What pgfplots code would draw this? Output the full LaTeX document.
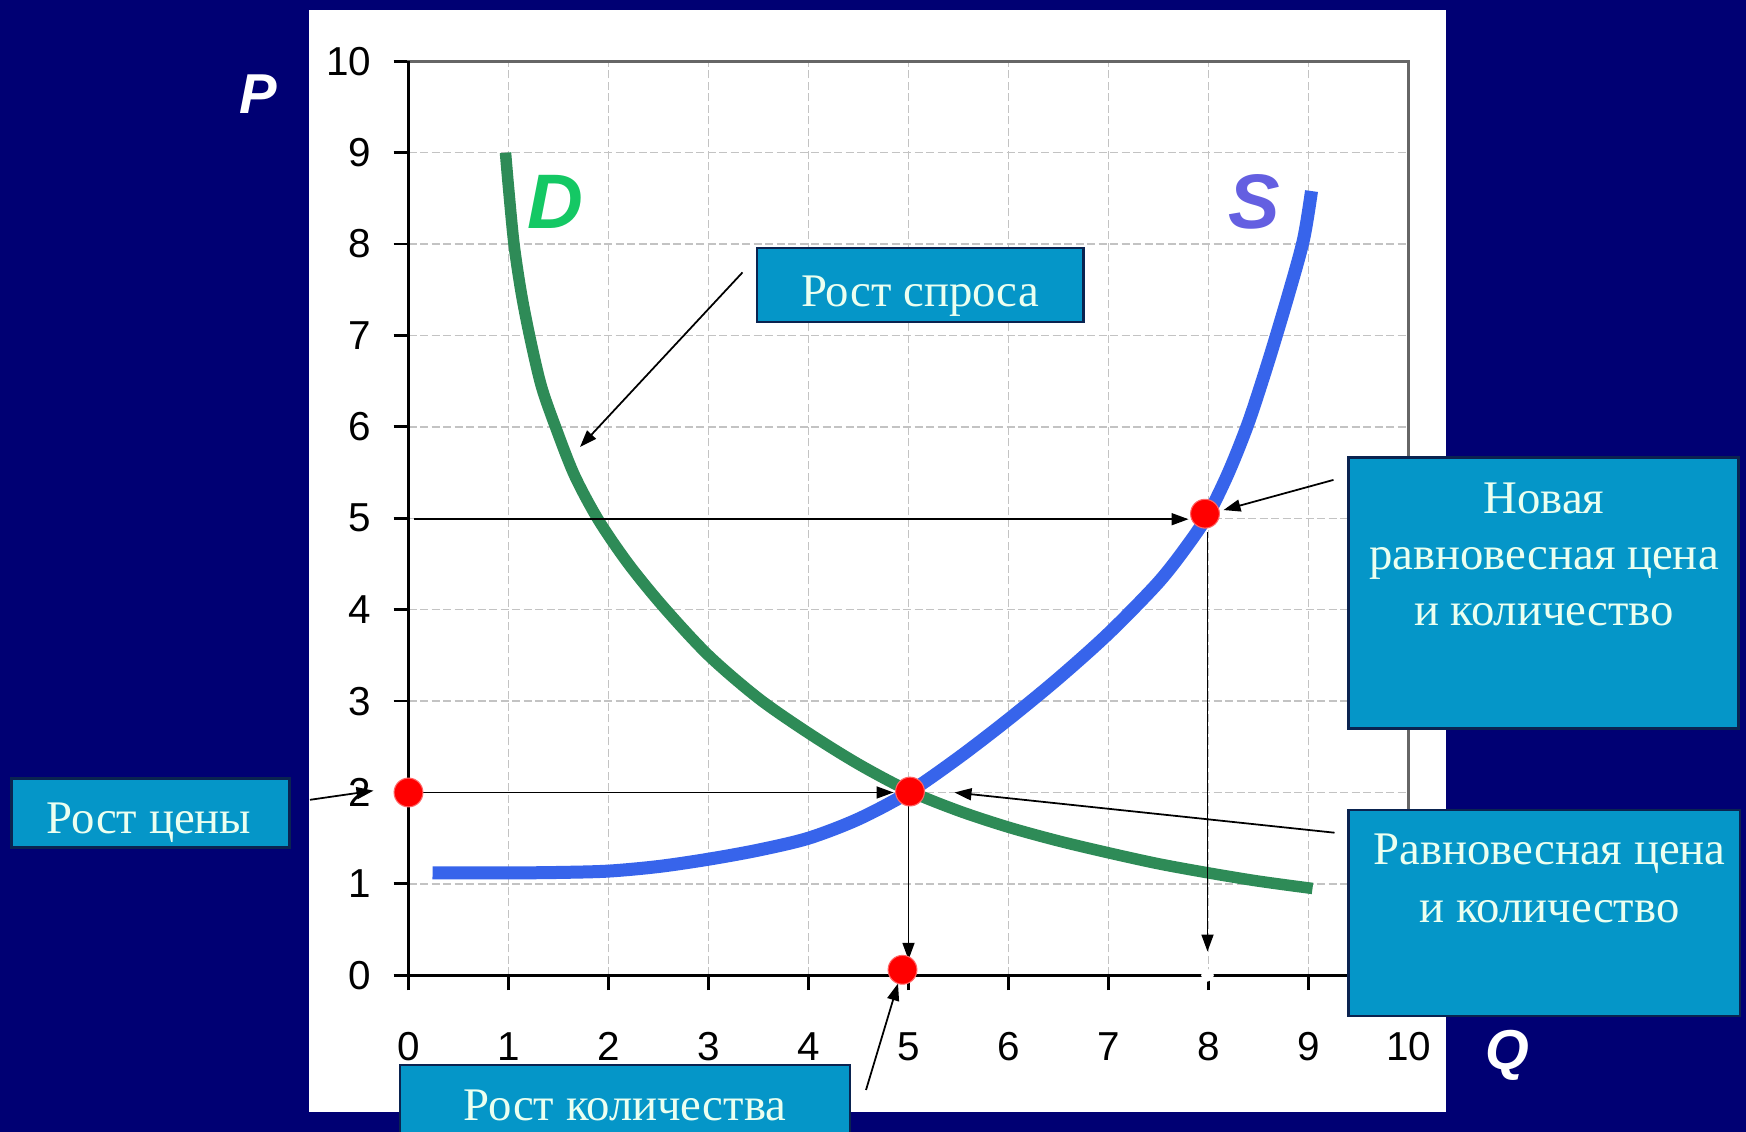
\documentclass[border=0pt]{standalone}
\usepackage{fontspec}
\setmainfont{Liberation Serif}
\newfontfamily\arial{Liberation Sans}
\usepackage{pgfplots}
\pgfplotsset{compat=1.18}
\usetikzlibrary{arrows.meta}
\definecolor{bgnavy}{RGB}{0,0,115}
\definecolor{boxblue}{RGB}{5,150,200}
\definecolor{boxedge}{RGB}{10,35,80}
\definecolor{boxtext}{RGB}{235,255,240}
\definecolor{dgreen}{RGB}{46,139,87}
\definecolor{sblue}{RGB}{55,100,235}
\definecolor{dlabel}{RGB}{20,200,100}
\definecolor{slabel}{RGB}{100,95,225}
\definecolor{gridgray}{RGB}{195,195,195}
\tikzset{arr/.style={black, line width=0.5pt, -{Triangle[length=1.7mm,width=1.2mm]}},
  boxt/.style={anchor=base, text=boxtext, font=\fontsize{13.3}{16}\selectfont, inner sep=0pt},
  bx/.style={fill=boxblue, draw=boxedge, line width=0.25mm}}
\begin{document}
\begin{tikzpicture}[x=1mm,y=1mm]
\fill[bgnavy] (0,0) rectangle (174.6,113.2);
\fill[white] (30.85,2.03) rectangle (144.6,112.2);
\begin{axis}[
  at={(40.85mm,15.67mm)}, anchor=south west,
  scale only axis, width=100mm, height=91.4mm,
  xmin=0, xmax=10, ymin=0, ymax=10,
  xtick={0,1,...,10}, ytick={0,1,...,10},
  tick pos=left, tick align=outside,
  major tick length=1.5mm,
  tick style={black, line width=0.8pt},
  axis line style={draw=black!60, line width=0.8pt},
  grid=major,
  major grid style={draw=gridgray, line width=0.35pt, dash pattern=on 0.8mm off 0.35mm},
  ticklabel style={font=\arial\fontsize{11.5}{12}\selectfont, text=black},
  /pgf/number format/assume math mode=true,
  xticklabel style={yshift=-3mm},
  yticklabel style={xshift=-1mm},
  clip=false,
]
\addplot[black, line width=1pt] coordinates {(0,10) (0,0) (10,0)};
% demand D
\addplot[dgreen, line width=1.15mm, smooth] coordinates {
 (0.97,9.0) (1.0,8.62) (1.055,8.0) (1.13,7.45) (1.22,6.95) (1.33,6.44) (1.47,6.0)
 (1.66,5.47) (1.9,4.98) (2.2,4.5) (2.55,4.03) (3.0,3.5) (3.5,3.03) (4.0,2.65)
 (4.5,2.31) (5.0,2.02) (5.5,1.8) (6.0,1.62) (6.5,1.47) (7.0,1.34) (7.5,1.22)
 (8.0,1.12) (8.5,1.03) (9.04,0.95)};
% supply S
\addplot[sblue, line width=1.3mm, smooth] coordinates {
 (0.24,1.12) (1.0,1.12) (1.5,1.125) (2.0,1.14) (2.5,1.19) (3.0,1.27) (3.5,1.37)
 (4.0,1.50) (4.5,1.71) (5.0,2.0) (5.5,2.38) (6.0,2.8) (6.5,3.25) (7.0,3.74)
 (7.5,4.3) (7.8,4.72) (8.0,5.05) (8.2,5.5) (8.4,6.05) (8.6,6.72) (8.8,7.45)
 (8.95,8.05) (9.03,8.58)};
% guide arrows
\addplot[arr] coordinates {(0.13,2.0) (4.85,2.0)};
\addplot[arr] coordinates {(5.0,1.85) (5.0,0.17)};
\addplot[arr] coordinates {(0.05,4.99) (7.8,4.99)};
\addplot[arr] coordinates {(7.99,4.85) (7.99,0.26)};
% callout arrows
\addplot[arr] coordinates {(3.34,7.69) (1.715,5.78)};
\addplot[arr] coordinates {(9.25,5.42) (8.15,5.09)};
\addplot[arr] coordinates {(9.26,1.56) (5.46,2.0)};
\addplot[arr] coordinates {(-0.985,1.92) (-0.35,2.02)};
\addplot[arr] coordinates {(4.575,-1.255) (4.895,-0.09)};
% points
\addplot[only marks, mark=*, mark size=1.6pt, mark options={fill=white, draw=white}] coordinates {(7.99,0)};
\addplot[only marks, mark=*, mark size=4.1pt, mark options={fill=red, draw=red!60!white, line width=0.3pt}] coordinates {(0,2) (5.015,2.01) (4.94,0.06) (7.965,5.05)};
\node[text=dlabel, font=\arial\bfseries\itshape\fontsize{22}{22}\selectfont] at (axis cs:1.47,8.46) {D};
\node[text=slabel, font=\arial\bfseries\itshape\fontsize{22}{22}\selectfont] at (axis cs:8.455,8.46) {S};
\end{axis}
% P and Q
\node[anchor=base, text=white, inner sep=0pt, font=\arial\bfseries\itshape\fontsize{16}{16}\selectfont] at (25.8,101.87) {P};
\node[anchor=base, text=white, inner sep=0pt, font=\arial\bfseries\itshape\fontsize{16}{16}\selectfont] at (150.75,6.2) {Q};
% boxes
\path[bx] (75.7,81.0) rectangle (108.35,88.4);
\node[boxt] at (92.0,82.5) {Рост спроса};
\path[bx] (134.83,40.37) rectangle (173.83,67.47);
\node[boxt] at (154.4,61.8) {Новая};
\node[boxt] at (154.4,56.2) {равновесная цена};
\node[boxt] at (154.4,50.6) {и количество};
\path[bx] (134.83,11.6) rectangle (174.0,32.2);
\node[boxt] at (154.95,26.7) {Равновесная цена};
\node[boxt] at (154.95,20.97) {и количество};
\path[bx] (1.17,28.47) rectangle (28.93,35.37);
\node[boxt] at (14.9,29.87) {Рост цены};
\path[bx] (40.0,-1) rectangle (85.0,6.7);
\node[boxt] at (62.5,1.13) {Рост количества};
\pgfresetboundingbox
\path[use as bounding box] (0,0) rectangle (174.6,113.2);
\end{tikzpicture}
\end{document}
